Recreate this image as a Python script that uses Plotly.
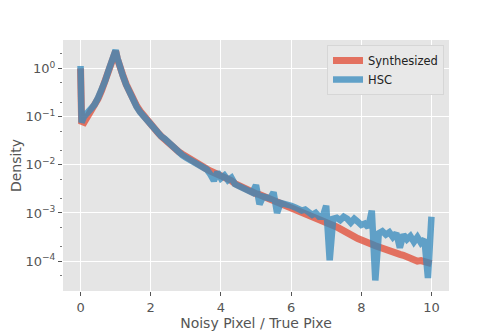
import plotly.graph_objects as go

# bin positions (Noisy Pixel / True Pixel ratio)
ratio = [0.0, 0.03, 0.1, 0.2, 0.3, 0.4, 0.5, 0.6, 0.7, 0.8, 0.9, 0.95,
         1.0, 1.05, 1.1, 1.2, 1.3, 1.4, 1.5, 1.6, 1.7, 1.8, 1.9,
         2.0, 2.1, 2.2, 2.3, 2.4, 2.5, 2.6, 2.7, 2.8, 2.9,
         3.0, 3.1, 3.2, 3.3, 3.4, 3.5, 3.6, 3.7, 3.8, 3.9,
         4.0, 4.1, 4.2, 4.3, 4.4, 4.5, 4.6, 4.7, 4.8, 4.9,
         5.0, 5.1, 5.2, 5.3, 5.4, 5.5, 5.6, 5.7, 5.8, 5.9,
         6.0, 6.1, 6.2, 6.3, 6.4, 6.5, 6.6, 6.7, 6.8, 6.9,
         7.0, 7.1, 7.2, 7.3, 7.4, 7.5, 7.6, 7.7, 7.8, 7.9,
         8.0, 8.1, 8.2, 8.3, 8.4, 8.5, 8.6, 8.7, 8.8, 8.9,
         9.0, 9.1, 9.2, 9.3, 9.4, 9.5, 9.6, 9.7, 9.8, 9.9, 10.0]

# log10 of density
synth_log = [0.0, -1.1, -1.12, -1.0, -0.9, -0.77, -0.63, -0.46, -0.27, -0.05, 0.15, 0.26,
             0.36, 0.2, 0.05, -0.13, -0.33, -0.5, -0.65, -0.78, -0.89, -0.99, -1.08,
             -1.17, -1.25, -1.33, -1.41, -1.48, -1.55, -1.61, -1.67, -1.73, -1.78,
             -1.83, -1.88, -1.92, -1.97, -2.01, -2.05, -2.09, -2.13, -2.16, -2.19,
             -2.23, -2.27, -2.3, -2.33, -2.39, -2.43, -2.47, -2.5, -2.53, -2.57,
             -2.6, -2.62, -2.65, -2.67, -2.7, -2.72, -2.75, -2.78, -2.81, -2.85,
             -2.88, -2.92, -2.95, -2.98, -3.02, -3.05, -3.08, -3.11, -3.13, -3.16,
             -3.19, -3.22, -3.25, -3.29, -3.33, -3.38, -3.42, -3.45, -3.49, -3.53,
             -3.57, -3.6, -3.62, -3.65, -3.68, -3.71, -3.73, -3.76, -3.79, -3.81,
             -3.84, -3.86, -3.88, -3.91, -3.94, -3.98, -4.0, -3.99, -4.02, -4.03, -4.05]

hsc_log = [0.05, -1.12, -1.0, -0.93, -0.86, -0.75, -0.61, -0.45, -0.26, -0.04, 0.17, 0.28,
           0.38, 0.22, 0.06, -0.14, -0.34, -0.52, -0.67, -0.8, -0.91, -1.0, -1.1,
           -1.19, -1.27, -1.34, -1.41, -1.46, -1.53, -1.62, -1.68, -1.74, -1.8,
           -1.85, -1.89, -1.93, -1.98, -2.02, -2.06, -2.1, -2.2, -2.33, -2.15,
           -2.28, -2.22, -2.32, -2.27, -2.4, -2.44, -2.47, -2.51, -2.54, -2.58,
           -2.42, -2.82, -2.66, -2.69, -2.7, -2.57, -3.0, -2.79, -2.8, -2.84,
           -2.85, -2.88, -2.9, -2.95, -2.93, -3.0, -3.04, -3.0, -3.08, -3.08,
           -2.85, -3.98, -3.12, -3.1, -3.15, -3.08, -3.12, -3.2, -3.12, -3.18,
           -3.25, -3.22, -3.3, -2.95, -4.4, -3.42, -3.38, -3.45, -3.4, -3.5,
           -3.42, -3.72, -3.45, -3.55, -3.48, -3.6, -3.5, -3.62, -3.55, -4.35, -3.08]

synth = [10 ** v for v in synth_log]
hsc = [10 ** v for v in hsc_log]

fig = go.Figure()
fig.add_trace(go.Scatter(x=ratio, y=synth, mode='lines', name='Synthesized',
                         line=dict(color='#E24A33', width=7), opacity=0.75))
fig.add_trace(go.Scatter(x=ratio, y=hsc, mode='lines', name='HSC',
                         line=dict(color='#348ABD', width=6.5), opacity=0.75))

# page body adds an 8px offset, so the figure is sized to fit the window
fig.update_layout(
    width=492, height=325,
    margin=dict(l=55, r=51, t=32, b=42),
    paper_bgcolor='white', plot_bgcolor='#E5E5E5',
    font=dict(family='DejaVu Sans', color='#555555'),
    showlegend=True,
    legend=dict(x=0.987, y=0.98, xanchor='right', yanchor='top',
                bgcolor='#E8E8E8', bordercolor='#D6D6D6', borderwidth=1,
                itemwidth=30,
                font=dict(size=11.5, color='#222222'), tracegroupgap=0),
)
fig.update_xaxes(range=[-0.5, 10.5], tickvals=[0, 2, 4, 6, 8, 10],
                 showgrid=True, gridcolor='white', gridwidth=1, zeroline=False,
                 ticks='outside', ticklen=4, tickcolor='#555555', automargin=False,
                 tickfont=dict(size=13, color='#555555'),
                 title=dict(text='Noisy Pixel / True Pixe', font=dict(size=14, color='#555555'),
                            standoff=4))
fig.update_yaxes(type='log', range=[-4.62, 0.59],
                 tickvals=[1e-4, 1e-3, 1e-2, 1e-1, 1],
                 ticktext=['10<sup>−4</sup>', '10<sup>−3</sup>', '10<sup>−2</sup>',
                           '10<sup>−1</sup>', '10<sup>0</sup>'],
                 showgrid=True, gridcolor='white', gridwidth=1, zeroline=False,
                 ticks='outside', ticklen=4, tickcolor='#555555', automargin=False,
                 tickfont=dict(size=13, color='#555555'),
                 minor=dict(ticks='outside', ticklen=2, tickcolor='#777777', showgrid=False),
                 title=dict(text='Density', font=dict(size=14, color='#555555'), standoff=4))

fig.write_html('out.html')
